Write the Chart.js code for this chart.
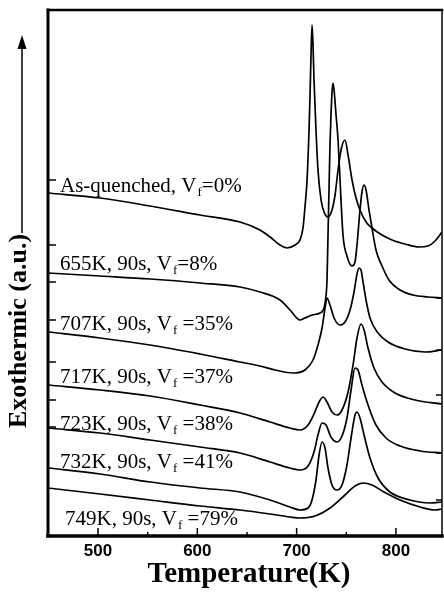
<!DOCTYPE html>
<html>
<head>
<meta charset="utf-8">
<script src="https://cdn.jsdelivr.net/npm/chart.js@4.4.1/dist/chart.umd.min.js"></script>
<style>
  body { margin: 0; background: #fff; }
  canvas { display: block; }
</style>
</head>
<body>
<canvas id="dsc" width="444" height="602"></canvas>
<script>
// DSC traces, [temperature (K), exothermic signal (a.u.)]
const asQuenched = [
  [449.6, 343], [502.0, 338], [552.4, 330], [602.7, 321], [643.0, 314], [663.1, 306],
  [673.2, 299], [683.3, 291], [690.3, 288], [698.4, 291], [703.4, 296], [706.4, 308],
  [708.4, 329], [710.5, 356], [712.5, 406], [713.5, 441], [714.5, 481], [715.5, 511],
  [716.5, 491], [717.5, 456], [719.5, 406], [721.5, 366], [724.6, 336], [727.6, 324],
  [731.6, 319], [735.6, 326], [738.7, 341], [741.7, 366], [744.7, 386], [748.7, 396],
  [751.8, 381], [755.8, 356], [759.8, 338], [763.8, 326], [769.9, 314], [775.9, 308],
  [786.0, 301], [796.1, 296], [809.1, 292], [823.2, 289], [832.3, 290], [839.4, 295],
  [846.4, 304]
];
const annealed655 = [
  [449.6, 263], [502.0, 260], [552.4, 257], [602.7, 253], [643.0, 249], [663.1, 244],
  [683.3, 236], [693.3, 226], [703.4, 216], [708.4, 218], [715.5, 221], [723.6, 223],
  [727.6, 228], [729.6, 240], [730.6, 256], [731.6, 301], [732.6, 346], [733.6, 391],
  [734.6, 421], [735.6, 443], [736.6, 453], [737.7, 446], [739.7, 421], [741.7, 396],
  [743.7, 356], [746.7, 301], [750.7, 280], [755.8, 270], [758.8, 274], [760.8, 291],
  [763.8, 326], [765.8, 344], [767.9, 351], [769.9, 346], [772.9, 326], [775.9, 308],
  [779.9, 286], [786.0, 270], [793.0, 256], [804.1, 246], [817.2, 241], [832.3, 239],
  [846.4, 238]
];
const annealed707 = [
  [449.6, 204], [502.0, 198], [552.4, 191], [602.7, 182], [643.0, 174], [663.1, 170],
  [678.2, 166], [696.4, 163], [708.4, 166], [716.5, 176], [721.5, 191], [725.6, 208],
  [728.6, 228], [730.6, 238], [733.6, 231], [737.7, 218], [743.7, 211], [748.7, 214],
  [753.8, 226], [757.8, 244], [760.8, 262], [762.8, 268], [764.8, 266], [766.9, 254],
  [769.9, 236], [773.9, 218], [782.0, 203], [792.0, 194], [809.1, 187], [829.3, 184],
  [846.4, 186]
];
const annealed717 = [
  [449.6, 151], [502.0, 146], [552.4, 140], [602.7, 131], [643.0, 123], [673.2, 114],
  [693.3, 108], [703.4, 106], [711.5, 111], [717.5, 122], [722.6, 134], [726.6, 139],
  [730.6, 134], [735.6, 124], [740.7, 121], [745.7, 126], [751.8, 144], [756.8, 171],
  [760.8, 198], [764.8, 212], [767.9, 206], [771.9, 188], [777.9, 168], [786.0, 154],
  [799.1, 143], [819.2, 136], [846.4, 132]
];
const annealed723 = [
  [449.6, 108], [502.0, 103], [552.4, 96], [602.7, 89], [643.0, 83], [673.2, 74],
  [693.3, 68], [703.4, 66], [711.5, 70], [717.5, 84], [721.5, 101], [725.6, 113],
  [729.6, 111], [734.6, 99], [740.7, 94], [745.7, 100], [750.7, 118], [754.8, 146],
  [758.8, 168], [761.8, 166], [765.8, 151], [771.9, 131], [779.9, 111], [790.0, 98],
  [804.1, 90], [824.3, 85], [846.4, 83]
];
const annealed732 = [
  [449.6, 68], [502.0, 62], [552.4, 54], [602.7, 48], [643.0, 44], [673.2, 36],
  [693.3, 29], [703.4, 26], [711.5, 28], [715.5, 36], [719.5, 56], [722.6, 81],
  [725.6, 94], [728.6, 88], [731.6, 68], [735.6, 51], [740.7, 46], [745.7, 51],
  [750.7, 71], [754.8, 98], [758.8, 121], [760.8, 124], [763.8, 118], [767.9, 101],
  [773.9, 78], [782.0, 58], [794.0, 44], [814.2, 36], [834.3, 33], [846.4, 34]
];
const annealed749 = [
  [449.6, 48], [502.0, 42], [552.4, 36], [602.7, 30], [643.0, 26], [673.2, 22],
  [693.3, 19], [703.4, 18], [718.5, 20], [733.6, 28], [748.7, 41], [758.8, 50],
  [766.9, 53], [775.9, 51], [788.0, 44], [804.1, 36], [824.3, 29], [839.4, 26],
  [846.4, 27]
];

const curves = [asQuenched, annealed655, annealed707, annealed717, annealed723, annealed732, annealed749];

// curve captions: text, subscript, text after subscript
const captionMain = ['As-quenched, V', '655K, 90s, V', '707K, 90s, V', '717K, 90s, V', '723K, 90s, V', '732K, 90s, V', '749K, 90s, V'];
const captionSub = ['f', 'f', 'f', 'f', 'f', 'f', 'f'];
const captionEnd = ['=0%', '=8%', ' =35%', ' =37%', ' =38%', ' =41%', ' =79%'];

const xTickLabels = [500, 600, 700, 800];
const xMinorTicks = [550, 650, 750];
const yTicksLeft = [356, 291, 254, 216, 174, 136, 109];
const yTicksRight = [238, 186, 141, 83, 36];

// caption anchors (px)
const captionX = [60, 60, 60, 60, 60, 60, 65];
const captionY = [192, 270, 330, 383, 430, 468, 525];

const decor = {
    id: 'decor',
    afterDraw(chart) {
        const c = chart.ctx;
        const a = chart.chartArea;
        const xs = chart.scales.x, ys = chart.scales.y;
        c.save();
        c.strokeStyle = '#000';
        c.fillStyle = '#000';

        // frame
        c.lineCap = 'square';
        c.lineWidth = 3;
        c.beginPath(); c.moveTo(a.left, a.top); c.lineTo(a.left, a.bottom); c.stroke();
        c.lineWidth = 3.5;
        c.beginPath(); c.moveTo(a.left, a.bottom); c.lineTo(a.right, a.bottom); c.stroke();
        c.lineWidth = 2.5;
        c.beginPath(); c.moveTo(a.left, a.top); c.lineTo(a.right, a.top); c.stroke();
        c.lineWidth = 1.5;
        c.beginPath(); c.moveTo(a.right, a.top); c.lineTo(a.right, a.bottom); c.stroke();

        // ticks, pointing inwards
        c.lineCap = 'butt';
        c.lineWidth = 1.5;
        xTickLabels.forEach(v => {
            const px = xs.getPixelForValue(v);
            c.beginPath(); c.moveTo(px, a.bottom); c.lineTo(px, a.bottom - 8); c.stroke();
        });
        xMinorTicks.forEach(v => {
            const px = xs.getPixelForValue(v);
            c.beginPath(); c.moveTo(px, a.bottom); c.lineTo(px, a.bottom - 4); c.stroke();
        });
        yTicksLeft.forEach(v => {
            const py = ys.getPixelForValue(v);
            c.beginPath(); c.moveTo(a.left, py); c.lineTo(a.left + 8, py); c.stroke();
        });
        yTicksRight.forEach(v => {
            const py = ys.getPixelForValue(v);
            c.beginPath(); c.moveTo(a.right, py); c.lineTo(a.right - 6, py); c.stroke();
        });

        // x tick labels
        c.font = 'bold 17px "Liberation Sans", Arial, sans-serif';
        c.textAlign = 'center';
        c.textBaseline = 'middle';
        xTickLabels.forEach(v => c.fillText(String(v), xs.getPixelForValue(v), 551));

        // x title
        c.font = 'bold 29px "Liberation Serif", "Times New Roman", serif';
        c.textBaseline = 'alphabetic';
        c.fillText('Temperature(K)', 249, 582);

        // y title with arrow
        c.save();
        c.translate(26, 331);
        c.rotate(-Math.PI / 2);
        c.font = 'bold 26px "Liberation Serif", "Times New Roman", serif';
        c.textAlign = 'center';
        c.fillText('Exothermic (a.u.)', 0, 0);
        c.restore();
        c.lineWidth = 1.5;
        c.beginPath(); c.moveTo(22, 233); c.lineTo(22, 46); c.stroke();
        c.beginPath(); c.moveTo(22, 35); c.lineTo(17.5, 49); c.lineTo(26.5, 49); c.closePath(); c.fill();

        // captions
        c.textAlign = 'left';
        captionMain.forEach((txt, i) => {
            let x = captionX[i];
            const y = captionY[i];
            c.font = '21px "Liberation Serif", "Times New Roman", serif';
            c.fillText(txt, x, y);
            x += c.measureText(txt).width + 1;
            c.font = '13px "Liberation Serif", "Times New Roman", serif';
            c.fillText(captionSub[i], x, y + 4);
            x += c.measureText(captionSub[i]).width;
            c.font = '21px "Liberation Serif", "Times New Roman", serif';
            c.fillText(captionEnd[i], x, y);
        });
        c.restore();
    }
};

const ctx = document.getElementById('dsc').getContext('2d');
const chart = new Chart(ctx, {
    type: 'line',
    data: {
        datasets: curves.map(cv => ({
            data: cv.map(p => ({ x: p[0], y: p[1] })),
            borderColor: '#000',
            borderWidth: 1.7,
            pointRadius: 0,
            fill: false,
            cubicInterpolationMode: 'monotone'
        }))
    },
    options: {
        responsive: false,
        animation: false,
        layout: { padding: { left: 48, right: 2, top: 10, bottom: 66 } },
        scales: {
            x: { type: 'linear', min: 449.6, max: 846.4, display: false },
            y: { type: 'linear', min: 0, max: 526, display: false }
        },
        plugins: {
            legend: { display: false },
            tooltip: { enabled: false }
        }
    },
    plugins: [decor]
});
</script>
</body>
</html>
